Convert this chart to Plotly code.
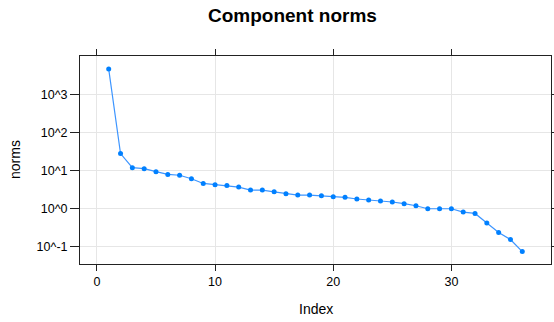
import plotly.graph_objects as go

index = list(range(1, 37))
norms = [4650, 27.5, 11.7, 11.0, 9.2, 7.8, 7.4, 6.0, 4.5, 4.17,
         4.0, 3.6, 3.0, 3.0, 2.7, 2.4, 2.22, 2.22, 2.14, 2.0,
         1.94, 1.75, 1.65, 1.55, 1.46, 1.32, 1.16, 0.97, 0.97, 0.97,
         0.79, 0.73, 0.41, 0.23, 0.15, 0.072]

x_ticks = [0, 10, 20, 30]
y_tickvals = [0.1, 1, 10, 100, 1000]
y_ticktext = ["10^-1", "10^0", "10^1", "10^2", "10^3"]

FONT = "Liberation Sans, Arial, sans-serif"
W, H = 554, 322
L, R, T, B = 80, 3, 56, 58
pw, ph = W - L - R, H - T - B

fig = go.Figure()
fig.add_trace(go.Scatter(
    x=index, y=norms, mode="lines+markers",
    line=dict(color="#3d95ff", width=1.2),
    marker=dict(color="#0080ff", size=5),
    showlegend=False,
))

fig.update_layout(
    width=W, height=H,
    margin=dict(l=L, r=R, t=T, b=B, autoexpand=False),
    paper_bgcolor="white", plot_bgcolor="white",
    font=dict(family=FONT, color="black", size=12),
    annotations=[
        dict(text="<b>Component norms</b>", xref="paper", yref="paper",
             x=(292 - L) / pw, y=1 + (T - 15) / ph, xanchor="center", yanchor="middle",
             showarrow=False, font=dict(family=FONT, size=19, color="black")),
        dict(text="Index", xref="paper", yref="paper",
             x=0.5, y=-(309 - (H - B)) / ph, xanchor="center", yanchor="middle",
             showarrow=False, font=dict(family=FONT, size=14, color="black")),
        dict(text="norms", xref="paper", yref="paper", textangle=-90,
             x=-(L - 15) / pw, y=0.5, xanchor="center", yanchor="middle",
             showarrow=False, font=dict(family=FONT, size=14, color="black")),
    ],
)

fig.update_xaxes(
    range=[-1.43, 38.43], tickvals=x_ticks, automargin=False,
    showgrid=True, gridcolor="#e6e6e6", gridwidth=1, zeroline=False,
    showline=True, linecolor="#222222", linewidth=1, mirror="ticks",
    ticks="outside", ticklen=6, tickcolor="#222222",
    tickfont=dict(size=12.5, color="black"),
)
fig.update_yaxes(
    type="log", range=[-1.47, 4.012], automargin=False,
    tickvals=y_tickvals, ticktext=y_ticktext,
    showgrid=True, gridcolor="#e6e6e6", gridwidth=1, zeroline=False,
    showline=True, linecolor="#222222", linewidth=1, mirror="ticks",
    ticks="outside", ticklen=9, tickcolor="#222222",
    tickfont=dict(size=12.5, color="black"),
)

fig.write_html(
    "out.html",
    config={"displayModeBar": False},
    post_script="document.body.style.margin='0';document.body.style.overflow='hidden';",
)
